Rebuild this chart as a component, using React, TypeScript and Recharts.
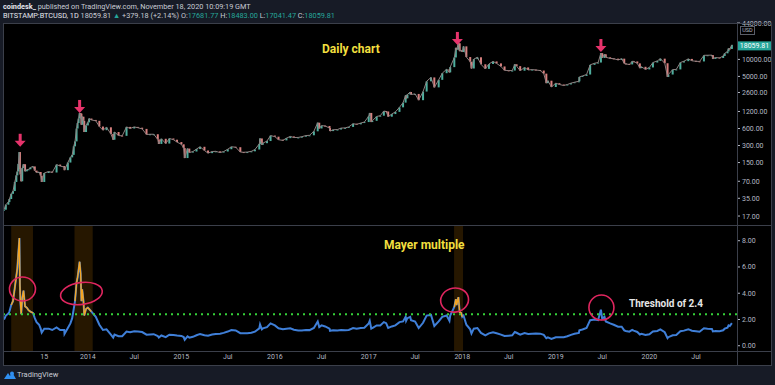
import React from 'react';
import { ComposedChart, Bar, Line, XAxis, YAxis, ReferenceArea, ReferenceLine, ReferenceDot } from 'recharts';

// BTCUSD (Bitstamp) closes and Mayer multiple, roughly twice a month
const dates2013 = ['2013-02-08', '2013-02-15', '2013-02-25', '2013-03-01', '2013-03-08', '2013-03-15', '2013-03-22', '2013-03-28', '2013-04-01', '2013-04-05', '2013-04-09', '2013-04-11', '2013-04-13', '2013-04-16', '2013-04-20', '2013-04-25', '2013-05-01', '2013-05-08', '2013-05-15', '2013-05-22', '2013-06-01', '2013-06-08', '2013-06-15', '2013-06-25', '2013-07-01', '2013-07-05', '2013-07-15', '2013-08-01', '2013-08-15', '2013-09-01', '2013-09-15', '2013-10-01', '2013-10-02', '2013-10-15', '2013-10-25', '2013-11-01', '2013-11-07', '2013-11-12', '2013-11-18', '2013-11-22', '2013-11-26', '2013-11-30', '2013-12-04', '2013-12-07', '2013-12-10', '2013-12-15', '2013-12-18', '2013-12-25'];
const close2013 = [22, 27, 30, 34, 42, 47, 68, 89, 104, 142, 230, 115, 92, 70, 120, 140, 105, 112, 114, 123, 128, 108, 100, 102, 88, 68, 98, 104, 100, 138, 130, 125, 110, 150, 185, 205, 290, 355, 600, 750, 900, 1120, 1100, 700, 970, 820, 520, 680];
const mayer2013 = [2.0, 2.3, 2.45, 2.6, 3.1, 3.4, 4.4, 5.3, 5.9, 7.1, 8.2, 4.6, 3.3, 2.4, 3.6, 4.2, 3.0, 2.9, 2.7, 2.6, 2.5, 2.1, 1.8, 1.6, 1.3, 1.0, 1.3, 1.3, 1.2, 1.4, 1.2, 1.2, 0.9, 1.35, 1.7, 2.1, 2.8, 3.4, 4.8, 5.2, 5.8, 6.4, 5.5, 3.4, 4.3, 3.4, 2.3, 2.8];

const dates2014 = ['2014-01-01', '2014-01-06', '2014-01-15', '2014-02-01', '2014-02-15', '2014-03-01', '2014-03-15', '2014-04-01', '2014-04-10', '2014-04-15', '2014-05-01', '2014-05-15', '2014-06-01', '2014-06-15', '2014-07-01', '2014-07-15', '2014-08-01', '2014-08-18', '2014-09-01', '2014-09-15', '2014-10-01', '2014-10-05', '2014-10-15', '2014-11-01', '2014-11-15', '2014-12-01', '2014-12-15'];
const close2014 = [770, 900, 850, 820, 650, 560, 630, 480, 380, 520, 450, 445, 640, 600, 640, 620, 590, 470, 475, 475, 385, 320, 395, 325, 400, 380, 345];
const mayer2014 = [2.9, 2.8, 2.6, 2.2, 1.6, 1.2, 1.25, 0.85, 0.62, 0.85, 0.72, 0.72, 1.08, 1.03, 1.1, 1.08, 1.04, 0.84, 0.86, 0.88, 0.74, 0.62, 0.78, 0.66, 0.84, 0.82, 0.78];

const dates2015 = ['2015-01-01', '2015-01-10', '2015-01-14', '2015-01-25', '2015-02-01', '2015-02-15', '2015-03-01', '2015-03-15', '2015-04-01', '2015-04-15', '2015-05-01', '2015-05-15', '2015-06-01', '2015-06-15', '2015-07-01', '2015-07-15', '2015-08-01', '2015-08-19', '2015-09-01', '2015-09-15', '2015-10-01', '2015-10-15', '2015-11-01', '2015-11-04', '2015-11-11', '2015-11-15', '2015-12-01', '2015-12-15'];
const close2015 = [315, 270, 180, 265, 225, 235, 260, 285, 245, 220, 235, 237, 225, 235, 258, 285, 280, 230, 228, 230, 237, 255, 320, 400, 310, 330, 360, 450];
const mayer2015 = [0.75, 0.66, 0.45, 0.72, 0.62, 0.68, 0.8, 0.9, 0.8, 0.76, 0.86, 0.9, 0.92, 0.98, 1.08, 1.2, 1.17, 0.96, 0.95, 0.96, 0.99, 1.07, 1.32, 1.62, 1.25, 1.32, 1.42, 1.7];

const dates2016 = ['2016-01-01', '2016-01-15', '2016-02-01', '2016-02-15', '2016-03-01', '2016-03-15', '2016-04-01', '2016-04-15', '2016-05-01', '2016-05-15', '2016-06-01', '2016-06-16', '2016-06-22', '2016-07-01', '2016-07-15', '2016-08-01', '2016-08-03', '2016-08-15', '2016-09-01', '2016-09-15', '2016-10-01', '2016-10-15', '2016-11-01', '2016-11-15', '2016-12-01', '2016-12-15'];
const close2016 = [430, 380, 370, 405, 435, 415, 417, 430, 450, 455, 535, 760, 600, 675, 665, 610, 540, 570, 575, 610, 615, 640, 730, 710, 750, 780];
const mayer2016 = [1.55, 1.33, 1.25, 1.3, 1.33, 1.22, 1.17, 1.17, 1.2, 1.19, 1.36, 1.85, 1.42, 1.55, 1.47, 1.3, 1.14, 1.18, 1.17, 1.2, 1.18, 1.2, 1.35, 1.3, 1.35, 1.37];

const dates2017 = ['2017-01-01', '2017-01-05', '2017-01-11', '2017-01-15', '2017-02-01', '2017-02-15', '2017-03-01', '2017-03-10', '2017-03-18', '2017-04-01', '2017-04-15', '2017-05-01', '2017-05-15', '2017-05-25', '2017-05-27', '2017-06-01', '2017-06-12', '2017-06-15', '2017-07-01', '2017-07-15', '2017-08-01', '2017-08-15', '2017-09-01', '2017-09-14', '2017-10-01', '2017-10-15', '2017-11-01', '2017-11-12', '2017-11-15', '2017-12-01', '2017-12-07', '2017-12-10', '2017-12-17', '2017-12-22', '2017-12-28'];
const close2017 = [990, 1130, 780, 820, 980, 1010, 1220, 1200, 970, 1080, 1180, 1420, 1720, 2300, 2050, 2400, 2650, 2400, 2450, 1900, 2700, 4100, 4800, 3200, 4350, 5700, 6700, 5900, 7300, 10800, 16000, 14800, 19300, 14000, 14500];
const mayer2017 = [1.7, 1.9, 1.3, 1.35, 1.55, 1.55, 1.8, 1.72, 1.36, 1.47, 1.55, 1.8, 1.85, 2.2, 1.9, 2.1, 2.2, 1.95, 1.85, 1.35, 1.75, 2.3, 2.35, 1.5, 1.85, 2.2, 2.3, 1.9, 2.3, 2.95, 3.55, 3.1, 3.7, 2.55, 2.5];

const dates2018 = ['2018-01-01', '2018-01-06', '2018-01-17', '2018-02-01', '2018-02-06', '2018-02-15', '2018-03-01', '2018-03-15', '2018-04-01', '2018-04-15', '2018-05-01', '2018-05-15', '2018-06-01', '2018-06-15', '2018-07-01', '2018-07-15', '2018-07-25', '2018-08-01', '2018-08-15', '2018-09-01', '2018-09-15', '2018-10-01', '2018-10-15', '2018-11-01', '2018-11-15', '2018-11-25', '2018-12-01', '2018-12-15'];
const close2018 = [13500, 17000, 11000, 9100, 6900, 10100, 10900, 8200, 6800, 8300, 9200, 8500, 7500, 6400, 6350, 6350, 8200, 7600, 6300, 7200, 6500, 6600, 6500, 6350, 5600, 3800, 4200, 3250];
const mayer2018 = [2.2, 2.3, 1.6, 1.25, 0.93, 1.3, 1.35, 0.98, 0.79, 0.94, 1.03, 0.95, 0.85, 0.74, 0.77, 0.8, 1.05, 0.99, 0.84, 0.97, 0.9, 0.92, 0.93, 0.92, 0.83, 0.57, 0.64, 0.52];

const dates2019 = ['2019-01-01', '2019-01-15', '2019-02-01', '2019-02-15', '2019-03-01', '2019-03-15', '2019-04-01', '2019-04-03', '2019-04-15', '2019-05-01', '2019-05-15', '2019-06-01', '2019-06-15', '2019-06-26', '2019-07-01', '2019-07-10', '2019-07-15', '2019-08-01', '2019-08-15', '2019-09-01', '2019-09-15', '2019-09-25', '2019-10-01', '2019-10-15', '2019-10-26', '2019-11-01', '2019-11-15', '2019-11-25', '2019-12-01', '2019-12-17'];
const close2019 = [3800, 3600, 3450, 3600, 3800, 3950, 4100, 4900, 5100, 5400, 8000, 8550, 8800, 12900, 10600, 12300, 10900, 10400, 10300, 9750, 10300, 8500, 8300, 8150, 9250, 9200, 8500, 7000, 7400, 6650];
const mayer2019 = [0.65, 0.65, 0.65, 0.72, 0.83, 0.91, 0.98, 1.17, 1.24, 1.35, 1.95, 2.0, 1.95, 2.75, 2.05, 2.2, 1.85, 1.7, 1.6, 1.45, 1.45, 1.17, 1.12, 1.07, 1.2, 1.15, 1.05, 0.86, 0.91, 0.82];

const dates2020 = ['2020-01-01', '2020-01-15', '2020-02-01', '2020-02-13', '2020-03-01', '2020-03-12', '2020-03-15', '2020-04-01', '2020-04-15', '2020-05-01', '2020-05-15', '2020-06-01', '2020-06-15', '2020-07-01', '2020-07-15', '2020-08-01', '2020-08-15', '2020-09-01', '2020-09-05', '2020-09-15', '2020-10-01', '2020-10-15', '2020-10-21', '2020-11-01', '2020-11-05', '2020-11-10', '2020-11-18'];
const close2020 = [7200, 8800, 9400, 10300, 8550, 4900, 5400, 6600, 6650, 8800, 9300, 10200, 9450, 9250, 9200, 11800, 11850, 11900, 10200, 10800, 10600, 11500, 12800, 13800, 15600, 15300, 18059.81];
const mayer2020 = [0.88, 1.08, 1.13, 1.24, 1.03, 0.58, 0.65, 0.8, 0.82, 1.1, 1.15, 1.26, 1.14, 1.1, 1.07, 1.33, 1.3, 1.28, 1.09, 1.13, 1.1, 1.18, 1.3, 1.38, 1.55, 1.5, 1.72];

// periods shaded orange in the lower pane (multiple above threshold)
const hotPeriods = [
  ['2013-03-08', '2013-06-01'],
  ['2013-11-10', '2014-01-20'],
  ['2017-11-30', '2018-01-04'],
];
const threshold = 2.4;

const priceTicks = [17, 35, 70, 150, 300, 600, 1200, 2600, 5000, 10000, 44000];
const mayerTicks = [0, 2, 4, 6, 8];
const timeTickDates = ['2013-07-15', '2014-01-01', '2014-07-01', '2015-01-01', '2015-07-01', '2016-01-01', '2016-07-01', '2017-01-01', '2017-07-01', '2018-01-01', '2018-07-01', '2019-01-01', '2019-07-01', '2020-01-01', '2020-07-01'];
const timeTickLabels = ['15', '2014', 'Jul', '2015', 'Jul', '2016', 'Jul', '2017', 'Jul', '2018', 'Jul', '2019', 'Jul', '2020', 'Jul'];

const topArrows = [
  { date: '2013-04-12', price: 285 },
  { date: '2013-11-30', price: 1130 },
  { date: '2017-12-13', price: 18000 },
  { date: '2019-06-26', price: 13500 },
];
const circles = [
  { date: '2013-04-21', value: 4.32, rx: 13, ry: 12, rot: 0 },
  { date: '2013-12-07', value: 3.98, rx: 21, ry: 11, rot: -8 },
  { date: '2017-12-02', value: 3.48, rx: 14, ry: 12, rot: -10 },
  { date: '2019-06-28', value: 2.91, rx: 12.5, ry: 12.5, rot: 0 },
];

const toTime = (d: string) => Date.parse(d + 'T00:00:00Z');

const dates = [...dates2013, ...dates2014, ...dates2015, ...dates2016, ...dates2017, ...dates2018, ...dates2019, ...dates2020];
const closes = [...close2013, ...close2014, ...close2015, ...close2016, ...close2017, ...close2018, ...close2019, ...close2020];
const mayers = [...mayer2013, ...mayer2014, ...mayer2015, ...mayer2016, ...mayer2017, ...mayer2018, ...mayer2019, ...mayer2020];

const rows = dates.map((d, i) => {
  const t = toTime(d);
  const c = closes[i];
  const o = i > 0 ? closes[i - 1] : c;
  const hot = hotPeriods.some(([a, b]) => t >= toTime(a) && t <= toTime(b));
  return { t, o, c, body: [Math.min(o, c), Math.max(o, c)], mayer: mayers[i], mayerHot: hot ? mayers[i] : null };
});

const lastClose = closes[closes.length - 1];
const timeTicks = timeTickDates.map(toTime);
const xDomain = [toTime('2013-02-04'), toTime('2020-12-08')];

const BG = '#171b26';
const PANE = '#000000';
const GRID = '#3b3f4a';
const AXIS_TXT = '#b4b8c2';
const UP = '#4fae9e';
const DOWN = '#d8807f';
const BLUE = '#3f7fd8';
const ORANGE = '#f5a623';
const PINK = '#e6336b';
const YELLOW = '#f2df3f';
const FONT = 'Roboto, "Liberation Sans", sans-serif';

const Candle = (p: any) => {
  const { x, y, width, height, payload } = p;
  if (x == null || y == null || !payload) return null;
  const mid = x + (width || 0) / 2;
  const top = Math.min(y, y + height);
  const h = Math.max(1, Math.abs(height || 0));
  return <rect x={mid - 1} y={top} width={2} height={h} fill={payload.c >= payload.o ? UP : DOWN} />;
};

const Arrow = (p: any) => {
  const { cx, cy } = p;
  if (cx == null || cy == null) return null;
  return (
    <g fill={PINK}>
      <rect x={cx - 1.5} y={cy - 13} width={3} height={8} />
      <polygon points={`${cx - 5.5},${cy - 6} ${cx + 5.5},${cy - 6} ${cx},${cy}`} />
    </g>
  );
};

const PriceTag = (p: any) => {
  const vb = p.viewBox;
  if (!vb) return null;
  const x = vb.x + vb.width + 1;
  const y = vb.y + 1;
  return (
    <g>
      <rect x={x} y={y - 4.5} width={33} height={9} fill="#26a69a" />
      <text x={x + 16.5} y={y + 2.5} textAnchor="middle" fill="#ffffff" fontSize={7} fontFamily={FONT}>
        {lastClose.toFixed(2)}
      </text>
    </g>
  );
};

const makeEllipse = (rx: number, ry: number, rot: number) => (p: any) => {
  const { cx, cy } = p;
  if (cx == null || cy == null) return null;
  return <ellipse cx={cx} cy={cy} rx={rx} ry={ry} transform={`rotate(${rot} ${cx} ${cy})`} fill="none" stroke="#e0265f" strokeWidth={1.6} />;
};

const line = (style: React.CSSProperties) => <div style={{ position: 'absolute', background: GRID, ...style }} />;

const App: React.FC = () => {
  const teal = { color: '#26a69a' };
  return (
    <div style={{ position: 'absolute', left: 0, top: 0, width: 775, height: 385, background: BG, overflow: 'hidden', fontFamily: FONT }}>
      <style>{'.recharts-surface{overflow:visible}'}</style>
      <div style={{ position: 'absolute', left: 3, top: 2, fontSize: 7.3, lineHeight: '9px', color: '#c9ccd4', whiteSpace: 'nowrap' }}>
        <span style={{ fontWeight: 700, color: '#e6e8ee' }}>coindesk_</span> published on TradingView.com, November 18, 2020 10:09:19 GMT
      </div>
      <div style={{ position: 'absolute', left: 3, top: 11, fontSize: 7.3, lineHeight: '9px', color: '#c9ccd4', whiteSpace: 'nowrap' }}>
        <span style={{ color: '#e6e8ee' }}>BITSTAMP:BTCUSD, 1D</span> 18059.81 <span style={teal}>▲</span> +379.18 (+2.14%) O:<span style={teal}>17681.77</span> H:<span style={teal}>18483.00</span> L:<span style={teal}>17041.47</span> C:<span style={teal}>18059.81</span>
      </div>

      <div style={{ position: 'absolute', left: 3, top: 23, width: 768, height: 342, background: PANE }} />

      <div style={{ position: 'absolute', left: 3, top: 23 }}>
        <ComposedChart width={768} height={202} data={rows} margin={{ top: 0, right: 0, bottom: 0, left: 0 }}>
          <XAxis dataKey="t" type="number" domain={xDomain} allowDataOverflow hide />
          <YAxis
            orientation="right"
            scale="log"
            domain={[11.8, 44000]}
            allowDataOverflow
            ticks={priceTicks}
            interval={0}
            width={34}
            axisLine={false}
            tickLine={{ stroke: AXIS_TXT }}
            tickSize={3}
            tickMargin={2}
            tick={{ fill: AXIS_TXT, fontSize: 7, fontFamily: FONT }}
            tickFormatter={(v: number) => v.toFixed(2)}
          />
          <Line dataKey="c" stroke="#8f8080" strokeWidth={1} dot={false} isAnimationActive={false} />
          <Bar dataKey="body" shape={Candle} isAnimationActive={false} />
          <ReferenceLine y={lastClose} stroke="none" label={PriceTag} />
          {topArrows.map((a) => (
            <ReferenceDot key={a.date} x={toTime(a.date)} y={a.price} shape={Arrow} />
          ))}
        </ComposedChart>
      </div>

      <div style={{ position: 'absolute', left: 3, top: 226 }}>
        <ComposedChart width={768} height={139} data={rows} margin={{ top: 0, right: 0, bottom: 0, left: 0 }}>
          <XAxis
            dataKey="t"
            type="number"
            domain={xDomain}
            allowDataOverflow
            ticks={timeTicks}
            interval={0}
            height={14}
            axisLine={false}
            tickLine={false}
            tickSize={0}
            tickMargin={3}
            tick={{ fill: AXIS_TXT, fontSize: 7, fontFamily: FONT }}
            tickFormatter={(v: number) => timeTickLabels[timeTicks.indexOf(v)] ?? ''}
          />
          <YAxis
            orientation="right"
            domain={[-0.4, 9.12]}
            allowDataOverflow
            ticks={mayerTicks}
            interval={0}
            width={34}
            axisLine={false}
            tickLine={{ stroke: AXIS_TXT }}
            tickSize={3}
            tickMargin={2}
            tick={{ fill: AXIS_TXT, fontSize: 7, fontFamily: FONT }}
            tickFormatter={(v: number) => v.toFixed(2)}
          />
          {hotPeriods.map(([a, b]) => (
            <ReferenceArea key={a} x1={toTime(a)} x2={toTime(b)} fill="#ff9800" fillOpacity={0.15} stroke="none" />
          ))}
          <Line dataKey="mayer" stroke={BLUE} strokeWidth={2} dot={false} isAnimationActive={false} />
          <Line dataKey="mayerHot" stroke={ORANGE} strokeWidth={1.4} dot={false} connectNulls={false} isAnimationActive={false} />
          <ReferenceLine y={threshold} stroke="#35d13a" strokeWidth={2} strokeDasharray="2 4" />
          {circles.map((c) => (
            <ReferenceDot key={c.date} x={toTime(c.date)} y={c.value} shape={makeEllipse(c.rx, c.ry, c.rot)} />
          ))}
        </ComposedChart>
      </div>

      {line({ left: 3, top: 23, width: 768, height: 1 })}
      {line({ left: 3, top: 225, width: 768, height: 1 })}
      {line({ left: 3, top: 351, width: 768, height: 1 })}
      {line({ left: 3, top: 365, width: 769, height: 1 })}
      {line({ left: 3, top: 23, width: 1, height: 342 })}
      {line({ left: 737, top: 23, width: 1, height: 342 })}
      {line({ left: 771, top: 23, width: 1, height: 342 })}

      <div style={{ position: 'absolute', left: 740, top: 26, width: 13, height: 7, border: '1px solid #5a5e69', fontSize: 5.5, lineHeight: '7px', color: AXIS_TXT, textAlign: 'center' }}>USD</div>

      <div style={{ position: 'absolute', left: 322, top: 42, fontSize: 12, fontWeight: 700, color: YELLOW, whiteSpace: 'nowrap' }}>Daily chart</div>
      <div style={{ position: 'absolute', left: 384, top: 238, fontSize: 12, fontWeight: 700, color: YELLOW, whiteSpace: 'nowrap' }}>Mayer multiple</div>
      <div style={{ position: 'absolute', left: 629, top: 298, fontSize: 10, fontWeight: 700, color: '#e6e6e6', whiteSpace: 'nowrap' }}>Threshold of 2.4</div>

      <svg style={{ position: 'absolute', left: 3, top: 370 }} width={14} height={10}>
        <path d="M1 9 L5 3 L7 6 L9 2 L13 9 Z" fill="#2f8ff0" />
        <circle cx={9} cy={3.5} r={2} fill="#2f8ff0" />
      </svg>
      <div style={{ position: 'absolute', left: 17, top: 370, fontSize: 7.5, lineHeight: '10px', color: '#c9ccd4' }}>TradingView</div>
    </div>
  );
};

export default App;
